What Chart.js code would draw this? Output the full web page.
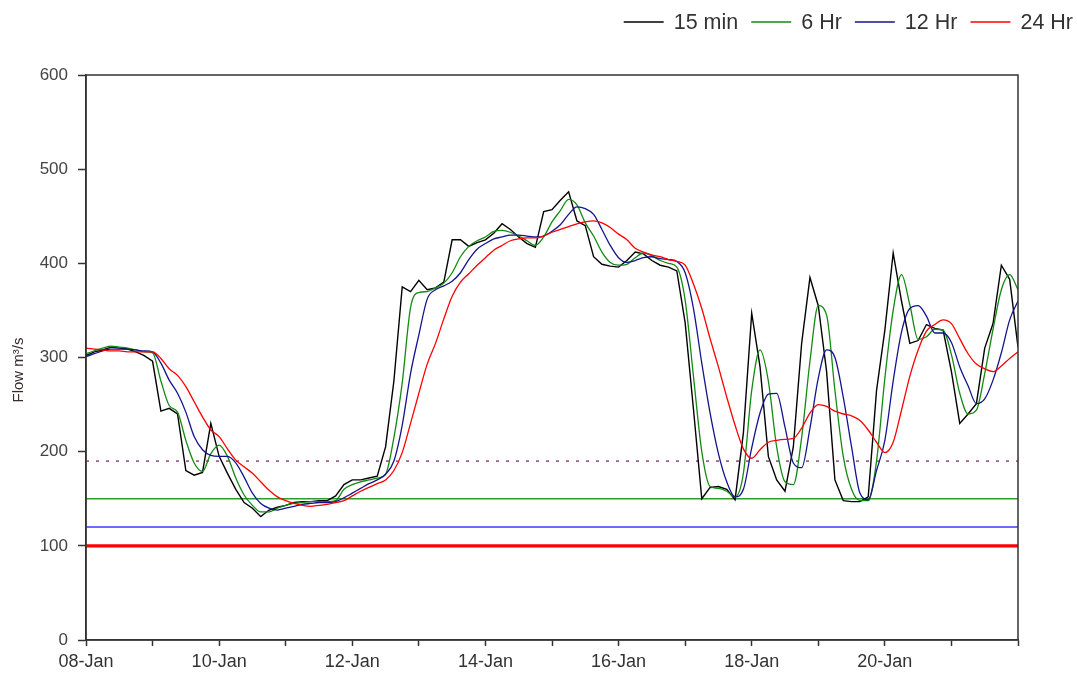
<!DOCTYPE html>
<html>
<head>
<meta charset="utf-8">
<script src="https://cdn.jsdelivr.net/npm/chart.js@4.4.1/dist/chart.umd.min.js"></script>
<style>
  html, body { margin: 0; padding: 0; background: #ffffff; }
  canvas { display: block; }
</style>
</head>
<body>
<canvas id="flow" width="1077" height="675"></canvas>
<script>
// Hours since 08-Jan 00:00, sampled every 3 hours
const hours = [
  0, 3, 6, 9, 12, 15, 18, 21,
  24, 27, 30, 33, 36, 39, 42, 45,
  48, 51, 54, 57, 60, 63, 66, 69,
  72, 75, 78, 81, 84, 87, 90, 93,
  96, 99, 102, 105, 108, 111, 114, 117,
  120, 123, 126, 129, 132, 135, 138, 141,
  144, 147, 150, 153, 156, 159, 162, 165,
  168, 171, 174, 177, 180, 183, 186, 189,
  192, 195, 198, 201, 204, 207, 210, 213,
  216, 219, 222, 225, 228, 231, 234, 237,
  240, 243, 246, 249, 252, 255, 258, 261,
  264, 267, 270, 273, 276, 279, 282, 285,
  288, 291, 294, 297, 300, 303, 306, 309,
  312, 315, 318, 321, 324, 327, 330, 333,
  336
];

// Flow (m³/s), 15 minute record
const flow15min = [
  302, 306, 308, 311, 310, 309, 306, 302,
  296, 243, 246, 240, 180, 175, 178, 230,
  195, 177, 160, 146, 140, 131, 138, 141,
  143, 146, 147, 147, 148, 148, 153, 165,
  170, 170, 172, 174, 205, 275, 375, 370,
  382, 372, 374, 380, 425, 425, 418, 422,
  425, 432, 442, 436, 428, 421, 417, 455,
  457, 467, 476, 445, 440, 407, 399, 397,
  396, 403, 412, 410, 403, 398, 396, 392,
  337, 245, 150, 162, 163, 160, 149, 220,
  347, 290, 195, 170, 158, 205, 315, 385,
  355, 285, 170, 148, 147, 147, 152, 265,
  329, 411, 360, 315, 318, 335, 331, 329,
  285, 230, 240, 251, 310, 336, 398, 383,
  311
];

// 6 hour average
const flow6hr = [
  304, 307, 310, 312, 311, 310, 308, 306,
  305, 275, 249, 242, 212, 188, 179, 198,
  207, 195, 172, 154, 143, 136, 136, 140,
  143, 145, 146, 147, 147, 147, 148, 160,
  165, 168, 170, 172, 176, 215, 273, 353,
  369, 370, 374, 379, 390, 407, 418, 424,
  428, 434, 435, 433, 429, 424, 419, 428,
  444, 456, 468, 462, 443, 429, 412, 401,
  398, 399, 406, 411, 408, 403, 400, 396,
  361, 280, 200, 163, 161, 158, 152, 177,
  265, 308, 275, 205, 168, 165, 215, 296,
  355, 345, 265, 195, 160, 148, 148, 190,
  278, 350, 388, 356, 319, 322, 330, 329,
  303, 262, 240, 244, 283, 330, 372, 388,
  372
];

// 12 hour average
const flow12hr = [
  301, 304, 307, 309, 309, 309, 308, 307,
  306, 294, 276, 262, 242, 216, 202, 196,
  195, 195, 188, 173, 156, 145, 140, 138,
  140, 142, 144, 145, 146, 146, 147, 151,
  156, 161, 166, 170, 176, 190, 228, 283,
  324, 362, 372, 376, 381, 390, 404, 415,
  421, 426, 428, 430, 430, 429, 428, 429,
  434, 441, 452, 460, 458, 452, 436, 419,
  406, 401, 403, 406, 407, 405, 404, 402,
  390, 352, 294, 241, 198, 168, 152, 160,
  204, 241, 261, 262, 226, 188, 183, 225,
  278, 308, 300, 258, 205, 156, 149, 180,
  212, 275, 327, 352, 355, 344, 326, 326,
  316, 290, 270, 251, 256, 276, 305, 340,
  360
];

// 24 hour average
const flow24hr = [
  310, 309, 308, 307, 307, 306, 306, 306,
  306, 299, 288, 281, 269, 253, 237, 223,
  216, 203, 191, 184, 177, 168, 159, 152,
  148, 145, 143, 142, 143, 144, 146, 148,
  153, 158, 162, 166, 170, 180, 199, 230,
  262, 293, 315, 341, 365, 380, 389, 398,
  406, 414, 419, 424, 426, 427, 427, 429,
  433, 436, 439, 442, 444, 445, 443, 438,
  431, 425, 416, 412, 409, 407, 404, 402,
  398, 378, 352, 320, 290, 258, 228, 203,
  193, 202, 210, 212, 213, 214, 225, 241,
  250, 248, 243, 240, 238, 233, 223, 210,
  199, 210, 244, 280, 308, 328, 335, 340,
  336, 320, 304, 293, 288, 285, 291, 299,
  306
];

// Flow limits (m³/s)
const limitDotted = 190;
const limit6hr = 150;
const limit12hr = 120;
const limit24hr = 100;

// One label per day, shown every second day
const xTickLabels = [
  '08-Jan', '', '10-Jan', '', '12-Jan', '', '14-Jan', '',
  '16-Jan', '', '18-Jan', '', '20-Jan', '', ''
];
const hourStart = 0;
const hourEnd = 336;

const seriesLabels = ['15 min', '6 Hr', '12 Hr', '24 Hr'];
const yTitle = 'Flow m³/s';

const FONT = '"Liberation Sans", Arial, sans-serif';
const TEXT = '#333333';
const AXIS = '#333333';

function pairs(values) {
  return values.map((v, i) => ({ x: hours[i], y: v }));
}
function flatLine(value) {
  return [{ x: hourStart, y: value }, { x: hourEnd, y: value }];
}

const seriesStyle = (color, width, order, smooth) => ({
  borderColor: color,
  backgroundColor: color,
  borderWidth: width,
  pointRadius: 0,
  pointHoverRadius: 0,
  fill: false,
  order: order,
  cubicInterpolationMode: smooth ? 'monotone' : 'default',
  tension: smooth ? 0.4 : 0
});

const limitStyle = (color, width, dash) => ({
  borderColor: color,
  backgroundColor: color,
  borderWidth: width,
  borderDash: dash || [],
  pointRadius: 0,
  pointHoverRadius: 0,
  fill: false,
  order: 10,
  isLimit: true
});

// Box around the plotting area, the axis title and the legend above it
const framePlugin = {
  id: 'frame',
  afterDatasetsDraw(chart) {
    const { ctx, chartArea: a } = chart;
    ctx.save();
    ctx.strokeStyle = AXIS;
    ctx.lineWidth = 1.5;
    ctx.strokeRect(a.left, a.top, a.right - a.left, a.bottom - a.top);
    ctx.restore();
  },
  afterDraw(chart) {
    const { ctx } = chart;
    ctx.save();
    // vertical axis title
    ctx.translate(19, 370);
    ctx.rotate(-Math.PI / 2);
    ctx.font = '15px ' + FONT;
    ctx.fillStyle = '#3a2a2a';
    ctx.textAlign = 'center';
    ctx.textBaseline = 'middle';
    ctx.fillText(yTitle, 0, 0);
    ctx.restore();

    // legend, right aligned
    const lineLen = 40, gap = 10, spacing = 13;
    const y = 22;
    ctx.save();
    ctx.font = '21.5px ' + FONT;
    ctx.textBaseline = 'middle';
    ctx.textAlign = 'left';
    const items = chart.data.datasets.filter(d => !d.isLimit);
    let total = 0;
    items.forEach((d, i) => {
      total += lineLen + gap + ctx.measureText(d.label).width + (i < items.length - 1 ? spacing : 0);
    });
    let x = 1073 - total;
    items.forEach(d => {
      ctx.strokeStyle = d.borderColor;
      ctx.lineWidth = 1.5;
      ctx.beginPath();
      ctx.moveTo(x, y);
      ctx.lineTo(x + lineLen, y);
      ctx.stroke();
      x += lineLen + gap;
      ctx.fillStyle = TEXT;
      ctx.fillText(d.label, x, y + 1);
      x += ctx.measureText(d.label).width + spacing;
    });
    ctx.restore();
  }
};

new Chart(document.getElementById('flow'), {
  type: 'line',
  data: {
    datasets: [
      Object.assign({ label: seriesLabels[0], data: pairs(flow15min) }, seriesStyle('#000000', 1.4, 4, false)),
      Object.assign({ label: seriesLabels[1], data: pairs(flow6hr) }, seriesStyle('#138a13', 1.3, 3, true)),
      Object.assign({ label: seriesLabels[2], data: pairs(flow12hr) }, seriesStyle('#14148f', 1.3, 2, true)),
      Object.assign({ label: seriesLabels[3], data: pairs(flow24hr) }, seriesStyle('#ff0000', 1.3, 1, true)),
      Object.assign({ label: 'limit', data: flatLine(limitDotted) }, limitStyle('#a0608e', 1.6, [3, 7])),
      Object.assign({ label: 'limit 6 Hr', data: flatLine(limit6hr) }, limitStyle('#2f9a2f', 1.6)),
      Object.assign({ label: 'limit 12 Hr', data: flatLine(limit12hr) }, limitStyle('#3a3aff', 1.6)),
      Object.assign({ label: 'limit 24 Hr', data: flatLine(limit24hr) }, limitStyle('#ff0000', 3.2))
    ]
  },
  options: {
    responsive: false,
    devicePixelRatio: 1,
    animation: false,
    events: [],
    layout: { padding: { top: 75, right: 59, bottom: 0, left: 0 } },
    plugins: {
      legend: { display: false },
      tooltip: { enabled: false }
    },
    scales: {
      x: {
        type: 'linear',
        min: hourStart,
        max: hourEnd,
        afterFit(scale) { scale.height = 35; },
        border: { color: AXIS, width: 1.5 },
        grid: { drawOnChartArea: false, drawTicks: true, tickLength: 6, tickColor: AXIS, tickWidth: 1.5 },
        ticks: {
          stepSize: 24,
          autoSkip: false,
          maxRotation: 0,
          padding: 5,
          color: TEXT,
          font: { family: FONT, size: 18 },
          callback: (value) => xTickLabels[Math.round(value / 24)] || ''
        }
      },
      y: {
        type: 'linear',
        min: 0,
        max: 600,
        afterFit(scale) { scale.width = 86; },
        border: { color: AXIS, width: 1.5 },
        grid: { drawOnChartArea: false, drawTicks: true, tickLength: 8, tickColor: AXIS, tickWidth: 1.5 },
        ticks: {
          stepSize: 100,
          padding: 10,
          color: '#444444',
          font: { family: FONT, size: 17 }
        }
      }
    }
  },
  plugins: [framePlugin]
});
</script>
</body>
</html>
